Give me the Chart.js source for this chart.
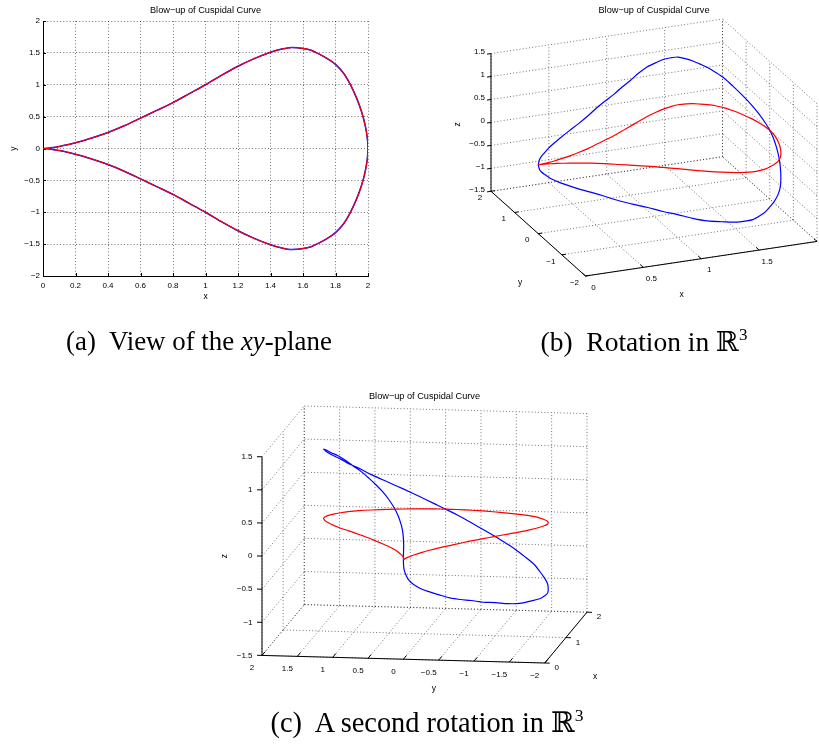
<!DOCTYPE html>
<html>
<head>
<meta charset="utf-8">
<script src="https://cdn.jsdelivr.net/npm/chart.js@4.4.0/dist/chart.umd.min.js"></script>
<style>
  html, body { margin: 0; padding: 0; background: #fff; }
  #page { position: relative; width: 819px; height: 745px; overflow: hidden; background: #fff; }
  canvas { position: absolute; left: 0; top: 0; }
  .caption { position: absolute; font-family: "Liberation Serif", "DejaVu Serif", serif; font-size: 20px;
             white-space: nowrap; color: #000; transform: translate(-50%, -50%); }
  .caption sup { font-size: 0.62em; vertical-align: 0.62em; line-height: 0; }
  .bb { font-family: "DejaVu Serif", "DejaVu Sans", serif; }
</style>
</head>
<body>
<div id="page">
  <canvas id="planeChart" width="819" height="745"></canvas>
  <canvas id="rotChart" width="819" height="745"></canvas>
  <canvas id="rot2Chart" width="819" height="745"></canvas>
  <div class="caption" data-w="266" style="left:199px; top:341px">(a)&nbsp; View of the <i>xy</i>-plane</div>
  <div class="caption" data-w="207" style="left:644px; top:341px">(b)&nbsp; Rotation in <span class="bb">ℝ</span><sup>3</sup></div>
  <div class="caption" data-w="313" style="left:427px; top:722px">(c)&nbsp; A second rotation in <span class="bb">ℝ</span><sup>3</sup></div>
</div>
<script>
var upperX = [0, 0.01, 0.025, 0.05, 0.1, 0.15, 0.2, 0.3, 0.4, 0.5, 0.6, 0.7, 0.8, 0.9, 1.0, 1.1, 1.2, 1.3,
              1.4, 1.47, 1.53, 1.6, 1.65, 1.7, 1.75, 1.8, 1.85, 1.89, 1.93, 1.96, 1.982, 1.996, 2.0];
var upperY = [0, 0.001, 0.004, 0.011, 0.032, 0.058, 0.09, 0.165, 0.252, 0.356, 0.476, 0.598, 0.72, 0.86, 1.0, 1.15, 1.29, 1.41,
              1.51, 1.56, 1.585, 1.57, 1.54, 1.48, 1.41, 1.32, 1.18, 1.01, 0.79, 0.58, 0.37, 0.16, 0];
// height of the lifted (blue) curve
var upperZ = [0, 0.1, 0.16, 0.22, 0.32, 0.39, 0.45, 0.55, 0.63, 0.71, 0.79, 0.85, 0.9, 0.96, 1.0, 1.05, 1.08, 1.08,
              1.08, 1.06, 1.04, 0.98, 0.93, 0.87, 0.81, 0.73, 0.64, 0.53, 0.41, 0.3, 0.19, 0.08, 0];
// lower arc: (2, 0) -> cusp
var lowerX = [1.996, 1.982, 1.96, 1.93, 1.89, 1.85, 1.8, 1.75, 1.7, 1.65, 1.6, 1.53, 1.47, 1.4, 1.3, 1.2, 1.1, 1.0,
              0.9, 0.8, 0.7, 0.6, 0.5, 0.4, 0.3, 0.2, 0.15, 0.1, 0.05, 0.025, 0.01, 0];
var lowerY = [-0.16, -0.37, -0.58, -0.79, -1.01, -1.18, -1.32, -1.41, -1.48, -1.54, -1.57, -1.585, -1.56, -1.51, -1.41, -1.29, -1.15, -1.0,
              -0.86, -0.72, -0.598, -0.476, -0.356, -0.252, -0.165, -0.09, -0.058, -0.032, -0.011, -0.004, -0.001, 0];
var lowerZ = [-0.08, -0.19, -0.3, -0.41, -0.53, -0.64, -0.73, -0.81, -0.87, -0.93, -0.98, -1.04, -1.06, -1.08, -1.08, -1.08, -1.05, -1.0,
              -0.96, -0.9, -0.85, -0.79, -0.71, -0.63, -0.55, -0.45, -0.39, -0.32, -0.22, -0.16, -0.1, 0];
var planeZ = 0;   // red curve lies in the xy-plane

var xTicks2d = [0, 0.2, 0.4, 0.6, 0.8, 1, 1.2, 1.4, 1.6, 1.8, 2];
var yTicks2d = [-2, -1.5, -1, -0.5, 0, 0.5, 1, 1.5, 2];
var xTicksB = [0, 0.5, 1, 1.5, 2];
var yTicksB = [-2, -1, 0, 1, 2];
var xTicksC = [0, 1, 2];
var yTicksC = [-2, -1.5, -1, -0.5, 0, 0.5, 1, 1.5, 2];
var zTicks3d = [-1.5, -1, -0.5, 0, 0.5, 1, 1.5];

var chartTitle = 'Blow\u2212up of Cuspidal Curve';

var curveX = upperX.concat(lowerX);
var curveY = upperY.concat(lowerY);
var curveZ = upperZ.concat(lowerZ);

var FONT = '"Liberation Sans", Arial, Helvetica, sans-serif';

function fmt(v) {
    return (v < 0 ? '\u2212' : '') + Math.abs(v);
}

// ---------- (a) view of the xy-plane ----------
var planeDecor = {
    id: 'planeDecor',
    afterDraw: function(chart) {
        var ctx = chart.ctx, a = chart.chartArea;
        var sx = chart.scales.x, sy = chart.scales.y;
        ctx.save();
        ctx.strokeStyle = '#000';
        ctx.lineWidth = 1;
        ctx.beginPath();
        xTicks2d.forEach(function(v) {
            var px = Math.round(sx.getPixelForValue(v)) + 0.5;
            ctx.moveTo(px, a.bottom); ctx.lineTo(px, a.bottom - 3);
        });
        yTicks2d.forEach(function(v) {
            var py = Math.round(sy.getPixelForValue(v)) + 0.5;
            ctx.moveTo(a.left, py); ctx.lineTo(a.left + 3, py);
        });
        ctx.stroke();
        ctx.fillStyle = '#000';
        ctx.font = '9.2px ' + FONT;
        ctx.textAlign = 'center';
        ctx.textBaseline = 'middle';
        ctx.fillText(chartTitle, (a.left + a.right) / 2, a.top - 11);
        ctx.restore();
    }
};

var pts2d = curveX.map(function(x, i) { return {x: x, y: curveY[i]}; });

// order: lower number is drawn on top, so the red trace covers the blue one
new Chart(document.getElementById('planeChart'), {
    type: 'scatter',
    data: {
        datasets: [
            {data: pts2d, order: 2, showLine: true, borderColor: '#0000ff', borderWidth: 1.5, pointRadius: 0, tension: 0.3},
            {data: pts2d, order: 1, showLine: true, borderColor: '#ff0000', borderWidth: 1.1, pointRadius: 0, tension: 0.3}
        ]
    },
    options: {
        responsive: false,
        animation: false,
        layout: {padding: {left: 0, top: 21, right: 451, bottom: 435}},
        plugins: {legend: {display: false}, tooltip: {enabled: false}},
        scales: {
            x: {
                type: 'linear', min: 0, max: 2,
                afterBuildTicks: function(s) { s.ticks = xTicks2d.map(function(v) { return {value: v}; }); },
                afterFit: function(s) { s.height = 34; },
                grid: {color: 'rgba(0,0,0,0.55)', lineWidth: 1, drawTicks: false},
                border: {display: true, color: '#000', width: 1, dash: [1, 2.2]},
                ticks: {padding: 5, color: '#000', font: {family: FONT, size: 8}, maxRotation: 0, autoSkip: false,
                        callback: function(v) { return fmt(v); }},
                title: {display: true, text: 'x', color: '#000', font: {family: FONT, size: 8.5}, padding: {top: 0, bottom: 8}}
            },
            y: {
                type: 'linear', min: -2, max: 2,
                afterBuildTicks: function(s) { s.ticks = yTicks2d.map(function(v) { return {value: v}; }); },
                afterFit: function(s) { s.width = 43; },
                grid: {color: 'rgba(0,0,0,0.55)', lineWidth: 1, drawTicks: false},
                border: {display: true, color: '#000', width: 1, dash: [1, 2.2]},
                ticks: {padding: 3, color: '#000', font: {family: FONT, size: 8}, autoSkip: false,
                        callback: function(v) { return fmt(v); }},
                title: {display: true, text: 'y', color: '#000', font: {family: FONT, size: 8.5}, padding: {top: 9, bottom: 0}}
            }
        }
    },
    plugins: [planeDecor]
});

// ---------- 3D views (orthographic, box normalised to a cube, stretched to fill) ----------
var box = {x: [0, 2], y: [-2, 2], z: [-1.5, 1.5]};

function project(x, y, z, view) {
    var X = (x - box.x[0]) / (box.x[1] - box.x[0]) - 0.5;
    var Y = (y - box.y[0]) / (box.y[1] - box.y[0]) - 0.5;
    var Z = (z - box.z[0]) / (box.z[1] - box.z[0]) - 0.5;
    var az = view.az * Math.PI / 180, el = view.el * Math.PI / 180;
    return {
        x: Math.cos(az) * X + Math.sin(az) * Y,
        y: -Math.sin(el) * Math.sin(az) * X + Math.sin(el) * Math.cos(az) * Y + Math.cos(el) * Z
    };
}

function boxRange(view) {
    var hs = [], vs = [];
    box.x.forEach(function(x) { box.y.forEach(function(y) { box.z.forEach(function(z) {
        var p = project(x, y, z, view); hs.push(p.x); vs.push(p.y);
    }); }); });
    return {hMin: Math.min.apply(null, hs), hMax: Math.max.apply(null, hs),
            vMin: Math.min.apply(null, vs), vMax: Math.max.apply(null, vs)};
}

function boxPlugin(cfg) {
    return {
        id: 'box3d',
        beforeDatasetsDraw: function(chart) {
            var ctx = chart.ctx, sx = chart.scales.x, sy = chart.scales.y, a = chart.chartArea;
            var x0 = box.x[0], x1 = box.x[1], y0 = box.y[0], y1 = box.y[1], z0 = box.z[0], z1 = box.z[1];
            function P(x, y, z) {
                var p = project(x, y, z, cfg.view);
                return [sx.getPixelForValue(p.x), sy.getPixelForValue(p.y)];
            }
            function seg(p, q) { ctx.beginPath(); ctx.moveTo(p[0], p[1]); ctx.lineTo(q[0], q[1]); ctx.stroke(); }

            // dotted grid on the back planes
            ctx.save();
            ctx.strokeStyle = 'rgba(0,0,0,0.55)';
            ctx.lineWidth = 1;
            ctx.setLineDash([1, 2.2]);
            cfg.xTicks.forEach(function(x) { seg(P(x, y0, z0), P(x, y1, z0)); seg(P(x, y1, z0), P(x, y1, z1)); });
            cfg.yTicks.forEach(function(y) { seg(P(x0, y, z0), P(x1, y, z0)); seg(P(x1, y, z0), P(x1, y, z1)); });
            cfg.zTicks.forEach(function(z) { seg(P(x0, y1, z), P(x1, y1, z)); seg(P(x1, y0, z), P(x1, y1, z)); });
            ctx.restore();

            // solid axes
            ctx.save();
            ctx.strokeStyle = '#000';
            ctx.lineWidth = 1;
            seg(P(x0, y1, z0), P(x0, y1, z1));
            seg(P(x0, y0, z0), P(x0, y1, z0));
            seg(P(x0, y0, z0), P(x1, y0, z0));

            function tick(base, dir) {
                var p = P(base[0], base[1], base[2]);
                var q = P(base[0] + dir[0] * 0.1, base[1] + dir[1] * 0.1, base[2] + dir[2] * 0.1);
                var dx = q[0] - p[0], dy = q[1] - p[1], d = Math.sqrt(dx * dx + dy * dy);
                seg(p, [p[0] + dx / d * cfg.tickLen, p[1] + dy / d * cfg.tickLen]);
                return p;
            }
            ctx.fillStyle = '#000';
            ctx.font = '8px ' + FONT;
            ctx.textBaseline = 'middle';
            cfg.xTicks.forEach(function(x) {
                var p = tick([x, y0, z0], cfg.xDir);
                ctx.textAlign = 'center';
                ctx.fillText(fmt(x), p[0] + cfg.xLab[0], p[1] + cfg.xLab[1]);
            });
            cfg.yTicks.forEach(function(y) {
                var p = tick([x0, y, z0], cfg.yDir);
                ctx.textAlign = 'center';
                ctx.fillText(fmt(y), p[0] + cfg.yLab[0], p[1] + cfg.yLab[1]);
            });
            cfg.zTicks.forEach(function(z) {
                var p = tick([x0, y1, z], cfg.zDir);
                ctx.textAlign = 'right';
                ctx.fillText(fmt(z), p[0] + cfg.zLab[0], p[1] + cfg.zLab[1]);
            });

            // axis names
            ctx.font = '8.5px ' + FONT;
            ctx.textAlign = 'center';
            var mx = P((x0 + x1) / 2, y0, z0), my = P(x0, (y0 + y1) / 2, z0), mz = P(x0, y1, (z0 + z1) / 2);
            ctx.fillText('x', mx[0] + cfg.xName[0], mx[1] + cfg.xName[1]);
            ctx.fillText('y', my[0] + cfg.yName[0], my[1] + cfg.yName[1]);
            ctx.save();
            ctx.translate(mz[0] + cfg.zName[0], mz[1] + cfg.zName[1]);
            ctx.rotate(-Math.PI / 2);
            ctx.fillText('z', 0, 0);
            ctx.restore();

            ctx.font = '9.2px ' + FONT;
            ctx.fillText(chartTitle, (a.left + a.right) / 2, cfg.titleY);
            ctx.restore();
        }
    };
}

function make3d(canvasId, cfg) {
    var r = boxRange(cfg.view);
    var lifted = curveX.map(function(x, i) { return project(x, curveY[i], curveZ[i], cfg.view); });
    var flat = curveX.map(function(x, i) { return project(x, curveY[i], planeZ, cfg.view); });
    return new Chart(document.getElementById(canvasId), {
        type: 'scatter',
        data: {
            datasets: [
                {data: lifted, order: 2, showLine: true, borderColor: '#0000ff', borderWidth: 1.2, pointRadius: 0, tension: 0.3},
                {data: flat, order: 1, showLine: true, borderColor: '#ff0000', borderWidth: 1.2, pointRadius: 0, tension: 0.3}
            ]
        },
        options: {
            responsive: false,
            animation: false,
            layout: {padding: cfg.padding},
            plugins: {legend: {display: false}, tooltip: {enabled: false}},
            scales: {
                x: {type: 'linear', display: false, min: r.hMin, max: r.hMax},
                y: {type: 'linear', display: false, min: r.vMin, max: r.vMax}
            }
        },
        plugins: [boxPlugin(cfg)]
    });
}

make3d('rotChart', {
    view: {az: -22.2, el: 33.6},
    padding: {left: 491, right: 2, top: 19, bottom: 469},
    xTicks: xTicksB, yTicks: yTicksB, zTicks: zTicks3d,
    xDir: [0, 1, 0], yDir: [1, 0, 0], zDir: [-1, 0, 0], tickLen: 4,
    xLab: [8, 11.5], yLab: [-11, 6.5], zLab: [-6, -1.5],
    xName: [-19.5, 36], yName: [-18, 49], zName: [-33, 2],
    titleY: 10
});

make3d('rot2Chart', {
    view: {az: -81.5, el: 14.5},
    padding: {left: 262, right: 232, top: 406, bottom: 82},
    xTicks: xTicksC, yTicks: yTicksC, zTicks: zTicks3d,
    xDir: [0, -1, 0], yDir: [1, 0, 0], zDir: [0, 1, 0], tickLen: 5,
    xLab: [12, 5], yLab: [-10, 12.5], zLab: [-9.5, 0],
    xName: [29.3, 39], yName: [30.5, 29], zName: [-37.3, 0],
    titleY: 396
});

// fit the captions to the widths measured on the original
document.querySelectorAll('.caption').forEach(function(el) {
    var w = el.getBoundingClientRect().width;
    el.style.fontSize = (20 * (+el.dataset.w) / w).toFixed(2) + 'px';
});
</script>
</body>
</html>
